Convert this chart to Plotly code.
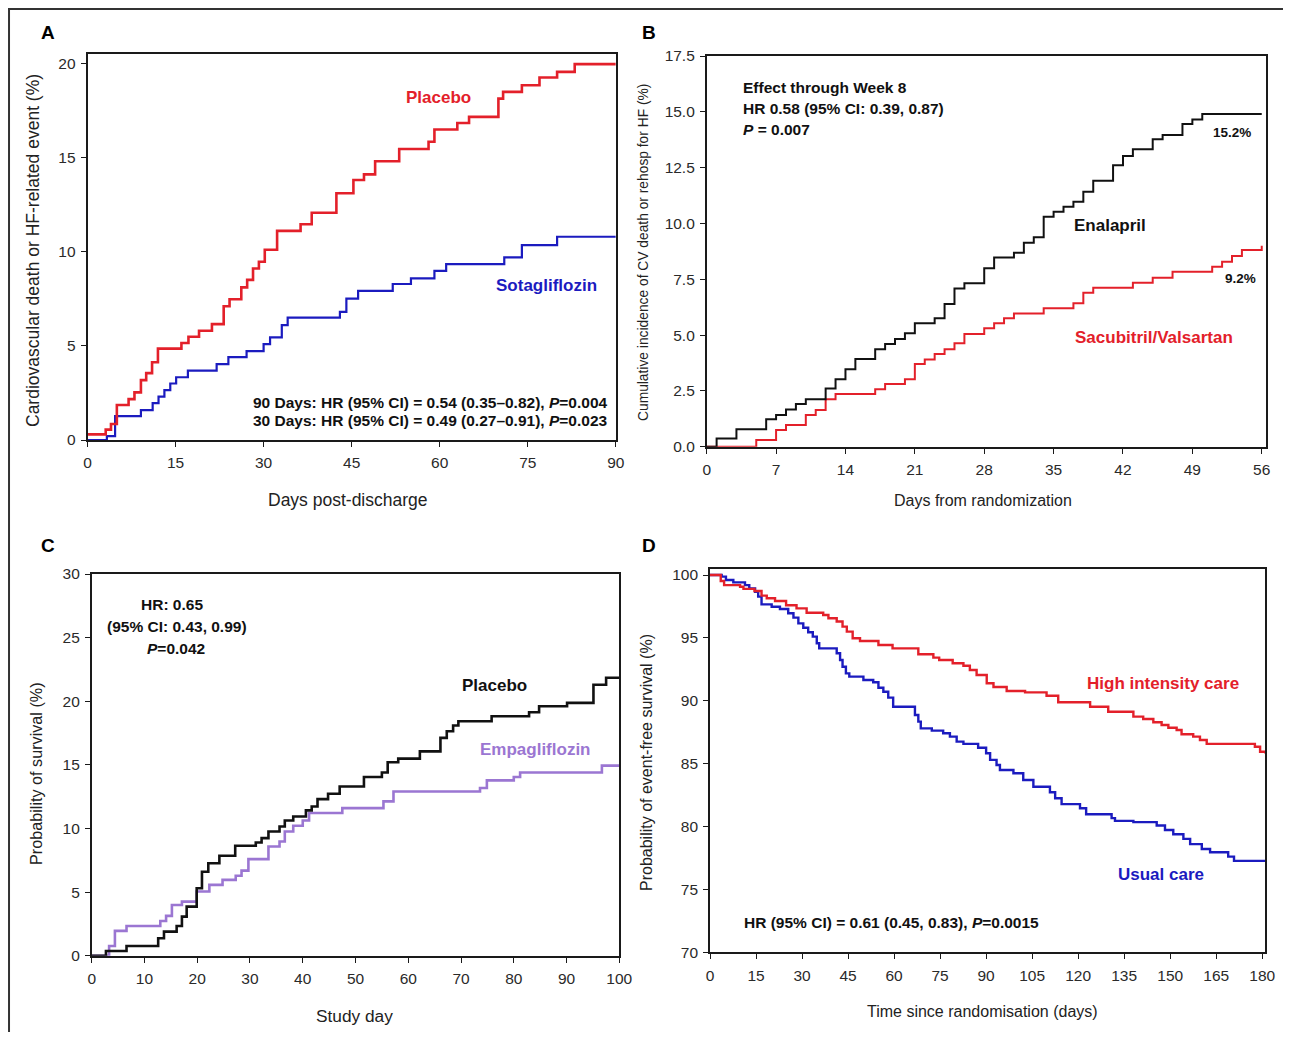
import plotly.graph_objects as go

# ---------------- Panel A ----------------
a_placebo_days = [0, 3.1, 4.0, 5.0, 7.0, 8.0, 9.1, 10.0, 11.0, 12.0, 16.0, 17.2, 19.0, 21.2, 23.2, 24.2, 26.2, 27.2, 28.2, 29.2,
                  30.2, 32.3, 36.3, 38.2, 42.4, 45.3, 47.1, 49.0, 53.1, 58.1, 59.1, 63.0, 65.0, 70.0, 70.8, 74.0, 77.0, 80.0, 83.0, 90]
a_placebo_pct = [0.3, 0.55, 0.85, 1.86, 2.17, 2.53, 3.18, 3.55, 4.13, 4.85, 5.15, 5.48, 5.8, 6.15, 7.1, 7.47, 8.1, 8.5, 9.1, 9.46,
                 10.1, 11.1, 11.45, 12.06, 13.1, 13.8, 14.1, 14.8, 15.45, 15.83, 16.48, 16.83, 17.15, 18.12, 18.48, 18.83, 19.24, 19.54, 19.95, 19.95]
a_sota_days = [0, 3.3, 4.7, 9.1, 11.1, 12.1, 13.1, 14.1, 15.1, 17.1, 22.0, 24.0, 27.1, 30.0, 31.1, 33.1, 34.1, 43.0, 44.1, 46.1,
               52.0, 55.1, 59.1, 61.1, 71.0, 74.0, 80.0, 90]
a_sota_pct = [0, 0.21, 1.27, 1.59, 1.96, 2.3, 2.65, 3.0, 3.33, 3.68, 4.03, 4.4, 4.72, 5.09, 5.45, 6.1, 6.5, 6.8, 7.5, 7.92,
              8.28, 8.58, 8.98, 9.34, 9.69, 10.34, 10.79, 10.79]
a_xticks = [0, 15, 30, 45, 60, 75, 90]
a_yticks = [0, 5, 10, 15, 20]

# ---------------- Panel B ----------------
b_enal_days = [0, 1, 3, 6, 7, 8, 9, 10, 12, 13, 14, 15, 17, 18, 19, 20, 21, 23, 24, 25,
               26, 28, 29, 31, 32, 33, 34, 35, 36, 37, 38, 39, 41, 42, 43, 45, 46, 48, 49, 50, 56]
b_enal_pct = [0, 0.37, 0.78, 1.23, 1.42, 1.67, 1.91, 2.12, 2.61, 3.02, 3.47, 3.93, 4.37, 4.6, 4.82, 5.08, 5.53, 5.75, 6.39, 7.09,
              7.32, 7.99, 8.48, 8.69, 9.14, 9.38, 10.3, 10.52, 10.75, 10.97, 11.42, 11.91, 12.61, 13.02, 13.32, 13.77, 13.96, 14.45, 14.66, 14.9, 14.9]
b_sv_days = [0, 5, 7, 8, 10, 11, 12, 13, 17, 18, 20, 21, 22, 23, 24, 25, 26, 28, 29, 30,
             31, 34, 37, 38, 39, 43, 45, 47, 51, 52, 53, 54, 56]
b_sv_pct = [0, 0.3, 0.75, 0.97, 1.42, 1.64, 2.12, 2.36, 2.57, 2.81, 3.02, 3.7, 3.91, 4.15, 4.37, 4.63, 5.05, 5.3, 5.53, 5.75,
            5.97, 6.2, 6.42, 6.9, 7.12, 7.34, 7.57, 7.84, 8.06, 8.28, 8.54, 8.81, 9.0]
b_xticks = [0, 7, 14, 21, 28, 35, 42, 49, 56]
b_yticks = [0, 2.5, 5, 7.5, 10, 12.5, 15, 17.5]

# ---------------- Panel C ----------------
c_placebo_days = [0, 2.7, 6.6, 12.6, 13.7, 16.1, 17.1, 18.0, 19.9, 20.9, 22.1, 24.2, 27.2, 31.1, 32.2, 33.5, 35.6, 36.6, 38.2, 40.6,
                  41.7, 42.8, 44.8, 47.0, 51.6, 55.0, 56.1, 58.1, 62.2, 66.1, 67.3, 68.5, 69.5, 75.8, 82.9, 84.8, 90.1, 95.1, 97.5, 100]
c_placebo_pct = [0, 0.37, 0.76, 1.37, 1.89, 2.34, 3.07, 3.86, 5.3, 6.6, 7.27, 7.85, 8.64, 8.9, 9.24, 9.76, 10.16, 10.63, 10.94, 11.42,
                 11.73, 12.31, 12.73, 13.3, 14.04, 14.4, 15.2, 15.49, 16.06, 17.12, 17.64, 18.09, 18.43, 18.82, 19.13, 19.61, 19.87, 21.3, 21.84, 21.84]
c_empa_days = [0, 3.3, 4.4, 6.6, 13.0, 14.1, 15.2, 17.1, 19.9, 22.3, 24.8, 27.3, 28.4, 29.7, 33.5, 35.6, 36.6, 38.2, 40.0, 41.2,
               47.5, 55.3, 57.2, 73.6, 74.9, 80.0, 81.2, 96.7, 100]
c_empa_pct = [0, 0.76, 1.95, 2.34, 2.73, 3.13, 3.99, 4.25, 5.04, 5.57, 5.96, 6.28, 6.69, 7.59, 8.58, 8.98, 9.76, 10.21, 10.63, 11.21,
              11.6, 12.13, 12.91, 13.18, 13.78, 14.04, 14.4, 14.94, 14.94]
c_xticks = [0, 10, 20, 30, 40, 50, 60, 70, 80, 90, 100]
c_yticks = [0, 5, 10, 15, 20, 25, 30]

# ---------------- Panel D ----------------
d_high_days = [0, 3.5, 4.6, 9.8, 10.9, 14.5, 16.8, 18.5, 21.2, 24.8, 28.2, 31.5, 36.9, 38.6, 41.3, 43.2, 44.6, 46.5, 48.9, 54.9,
               59.5, 67.9, 72.8, 74.7, 79.1, 82.6, 84.7, 86.9, 90.2, 92.4, 96.7, 102.7, 109.7, 113.5, 123.9, 129.8, 138.0, 141.2, 144.5, 147.2,
               149.4, 152.1, 153.7, 157.5, 159.7, 161.9, 177.6, 179.3, 181]
d_high_pct = [100, 99.52, 99.2, 99.07, 98.9, 98.73, 98.36, 98.15, 97.93, 97.6, 97.35, 97.0, 96.82, 96.56, 96.3, 95.9, 95.5, 94.97, 94.75, 94.44,
              94.17, 93.7, 93.43, 93.24, 92.98, 92.79, 92.45, 92.05, 91.39, 91.1, 90.78, 90.67, 90.4, 89.88, 89.53, 89.13, 88.74, 88.55, 88.29, 88.08,
              87.86, 87.68, 87.34, 87.15, 86.88, 86.57, 86.35, 85.95, 85.8]
d_usual_days = [0, 3.8, 5.2, 7.6, 11.4, 12.8, 14.7, 15.7, 16.8, 20.1, 22.8, 25.5, 27.2, 28.8, 30.4, 32.0, 33.5, 34.8, 35.6, 41.3,
                42.4, 43.2, 44.3, 45.4, 50.0, 53.2, 54.9, 56.5, 58.1, 59.7, 66.8, 67.9, 68.7, 72.3, 76.0, 78.2, 80.4, 82.6, 87.4, 90.0,
                91.3, 93.4, 94.5, 98.9, 102.1, 105.4, 110.8, 112.5, 114.6, 120.6, 122.6, 130.9, 132.0, 138.0, 145.6, 148.3, 151.0, 154.3, 156.5, 160.3,
                163.0, 168.9, 170.8, 181]
d_usual_pct = [100, 99.87, 99.6, 99.42, 99.2, 98.94, 98.67, 98.28, 97.67, 97.48, 97.3, 96.96, 96.61, 96.16, 95.81, 95.45, 95.1, 94.57, 94.17, 93.78,
               93.24, 92.71, 92.18, 91.92, 91.65, 91.47, 91.04, 90.72, 90.25, 89.53, 88.87, 88.34, 87.81, 87.63, 87.42, 87.15, 86.75, 86.57, 86.27, 85.83,
               85.3, 84.9, 84.5, 84.24, 83.7, 83.17, 82.73, 82.25, 81.78, 81.46, 80.98, 80.67, 80.45, 80.35, 80.08, 79.73, 79.39, 79.02, 78.6, 78.22,
               77.96, 77.61, 77.27, 77.27]
d_xticks = [0, 15, 30, 45, 60, 75, 90, 105, 120, 135, 150, 165, 180]
d_yticks = [70, 75, 80, 85, 90, 95, 100]

# ---------------- styling ----------------
# page body keeps its default 8px margin, so the figure is 16px smaller than the window
PAGE_MARGIN = 8
W, H = 1291 - 2 * PAGE_MARGIN, 1040 - 2 * PAGE_MARGIN
FONT = "Liberation Sans, Arial, Helvetica, sans-serif"
RED = "#E3202A"
BLUE = "#1B1BBF"
PURPLE = "#9B76D2"
BLACK = "#111111"


def fx(px):
    return (px - PAGE_MARGIN) / W


def fy(py):
    return 1 - (py - PAGE_MARGIN) / H


fig = go.Figure()

panels = {
    "A": dict(xd=(87.5, 615.8), yd=(54, 440), xr=[0, 90], yr=[0, 20.49], xt=a_xticks, yt=a_yticks, yfmt=None),
    "B": dict(xd=(706.7, 1266), yd=(56, 446.7), xr=[0, 56.43], yr=[0, 17.5], xt=b_xticks, yt=b_yticks, yfmt=".1f"),
    "C": dict(xd=(91.7, 619.3), yd=(574, 955.7), xr=[0, 100], yr=[0, 30], xt=c_xticks, yt=c_yticks, yfmt=None),
    "D": dict(xd=(710, 1265), yd=(569, 952.3), xr=[0, 180.9], yr=[70, 100.48], xt=d_xticks, yt=d_yticks, yfmt=None),
}

layout_axes = {}
for i, (k, p) in enumerate(panels.items(), start=1):
    xa = "xaxis" if i == 1 else f"xaxis{i}"
    ya = "yaxis" if i == 1 else f"yaxis{i}"
    common = dict(showline=True, linewidth=1.6, linecolor="#1a1a1a", mirror=True, ticks="outside",
                  ticklen=5, tickwidth=1.4, tickcolor="#1a1a1a", showgrid=False, zeroline=False,
                  automargin=False,
                  tickfont=dict(family=FONT, size=15.5, color="#2a2a2a"), fixedrange=True)
    layout_axes[xa] = dict(common, domain=[fx(p["xd"][0]), fx(p["xd"][1])], range=p["xr"],
                           tickvals=p["xt"], anchor=f"y{'' if i == 1 else i}", ticklabelstandoff=3)
    ydict = dict(common, domain=[fy(p["yd"][1]), fy(p["yd"][0])], range=p["yr"],
                 tickvals=p["yt"], anchor=f"x{'' if i == 1 else i}", ticklabelstandoff=2)
    if p["yfmt"]:
        ydict["tickformat"] = p["yfmt"]
    layout_axes[ya] = ydict


def step(x, y, color, width, xa, ya):
    fig.add_trace(go.Scatter(x=x, y=y, mode="lines", line=dict(color=color, width=width, shape="hv"),
                             xaxis=xa, yaxis=ya, showlegend=False, hoverinfo="skip"))


step(a_sota_days, a_sota_pct, BLUE, 2.2, "x", "y")
step(a_placebo_days, a_placebo_pct, RED, 2.6, "x", "y")
step(b_sv_days, b_sv_pct, RED, 2.0, "x2", "y2")
step(b_enal_days, b_enal_pct, BLACK, 2.0, "x2", "y2")
step(c_empa_days, c_empa_pct, PURPLE, 2.6, "x3", "y3")
step(c_placebo_days, c_placebo_pct, BLACK, 2.6, "x3", "y3")
step(d_usual_days, d_usual_pct, BLUE, 2.4, "x4", "y4")
step(d_high_days, d_high_pct, RED, 2.4, "x4", "y4")

ann = []


def txt(x, y, s, size=14, color="#111", bold=True, xanchor="center", angle=0):
    if bold:
        s = f"<b>{s}</b>"
    ann.append(dict(x=fx(x), y=fy(y), xref="paper", yref="paper", text=s, showarrow=False,
                    xanchor=xanchor, yanchor="middle", textangle=angle,
                    font=dict(family=FONT, size=size, color=color)))


# panel letters
txt(48, 32, "A", 19, "#000")
txt(649, 32, "B", 19, "#000")
txt(48, 545, "C", 19, "#000")
txt(649, 545, "D", 19, "#000")

# axis titles
txt(33, 251, "Cardiovascular death or HF-related event (%)", 17.5, "#222", bold=False, angle=-90)
txt(348, 500, "Days post-discharge", 17.5, "#222", bold=False)
txt(643, 253, "Cumulative incidence of CV death or rehosp for HF (%)", 13.8, "#222", bold=False, angle=-90)
txt(983, 500, "Days from randomization", 16, "#222", bold=False)
txt(36, 774, "Probability of survival (%)", 16.2, "#222", bold=False, angle=-90)
txt(354, 1016, "Study day", 17.3, "#222", bold=False)
txt(646, 763, "Probability of event-free survival (%)", 16, "#222", bold=False, angle=-90)
txt(982, 1011, "Time since randomisation (days)", 16, "#222", bold=False)

# Panel A text
txt(438, 97, "Placebo", 17, RED)
txt(546, 285, "Sotagliflozin", 17, BLUE)
txt(610, 402, "90 Days: HR (95% CI) = 0.54 (0.35\u20130.82), <i>P</i>=0.004", 15.5, "#111", xanchor="right")
txt(610, 420, "30 Days: HR (95% CI) = 0.49 (0.27\u20130.91), <i>P</i>=0.023", 15.5, "#111", xanchor="right")

# Panel B text
txt(741, 87, "Effect through Week 8", 15.5, "#111", xanchor="left")
txt(741, 108, "HR 0.58 (95% CI: 0.39, 0.87)", 15.5, "#111", xanchor="left")
txt(741, 129, "<i>P</i> = 0.007", 15.5, "#111", xanchor="left")
txt(1232, 132, "15.2%", 13.5, "#111")
txt(1110, 225, "Enalapril", 17, "#111")
txt(1240, 278, "9.2%", 13.5, "#111")
txt(1154, 337, "Sacubitril/Valsartan", 17, RED)

# Panel C text
txt(172, 604, "HR: 0.65", 15.5, "#111")
txt(177, 626, "(95% CI: 0.43, 0.99)", 15.5, "#111")
txt(176, 648, "<i>P</i>=0.042", 15.5, "#111")
txt(494, 685, "Placebo", 17, "#111")
txt(535, 749, "Empagliflozin", 17, PURPLE)

# Panel D text
txt(742, 922, "HR (95% CI) = 0.61 (0.45, 0.83), <i>P</i>=0.0015", 15.5, "#111", xanchor="left")
txt(1163, 683, "High intensity care", 17, RED)
txt(1161, 874, "Usual care", 17, BLUE)

shapes = [
    dict(type="line", xref="paper", yref="paper", x0=0.0008, x1=0.0008, y0=1, y1=0,
         line=dict(color="#333", width=2)),
    dict(type="line", xref="paper", yref="paper", x0=0, x1=1, y0=0.999, y1=0.999,
         line=dict(color="#333", width=2)),
]

fig.update_layout(width=W, height=H, margin=dict(l=0, r=0, t=0, b=0, pad=0),
                  paper_bgcolor="white", plot_bgcolor="white", annotations=ann, shapes=shapes,
                  showlegend=False, font=dict(family=FONT), **layout_axes)

fig.write_html("out.html", config={"displayModeBar": False, "responsive": False})
